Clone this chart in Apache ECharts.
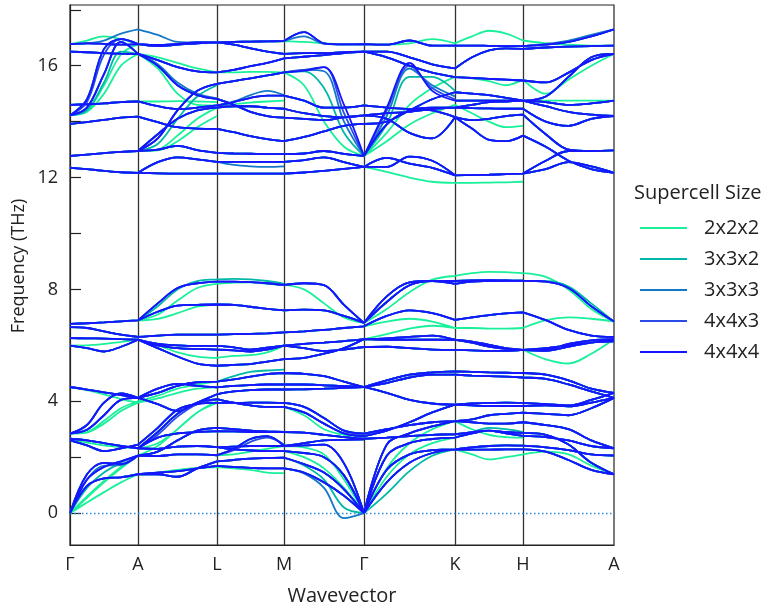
<!DOCTYPE html>
<html><head><meta charset="utf-8">
<script src="https://cdn.jsdelivr.net/npm/echarts@6/dist/echarts.min.js"></script>
<style>html,body{margin:0;padding:0;background:#fff}#c{width:764px;height:611px}</style>
</head><body><div id="c"></div>
<script>
// High-symmetry path (distance along path) and labels
const kpointPos = [0, 68, 147, 214, 294, 385, 453, 544];
const kpointLabels = ['Γ', 'A', 'L', 'M', 'Γ', 'K', 'H', 'A'];
const supercells = ['2x2x2', '3x3x2', '3x3x3', '4x4x3', '4x4x4'];
const colors = ['#19f09a', '#00b8a8', '#1478c8', '#2a4be8', '#1515ff'];
const yLabelTicks = [0, 4, 8, 12, 16];
const yMinorTicks = [0, 2, 4, 6, 8, 10, 12, 14, 16, 18];

// 4x4x4 branches, 5 samples per segment (THz)
const GA_444 = [
 [0,0.97,1.24,1.28,1.39],[0,1.39,1.8,1.75,2.06],[0,1.2,1.65,1.85,2.06],[2.66,2.6,2.5,2.4,2.32],
 [2.6,2.42,2.22,2.32,2.45],[2.84,3.15,3.95,4.28,4.12],[2.84,2.98,3.5,4.05,4.12],[4.51,4.42,4.32,4.22,4.12],
 [6.77,6.79,6.82,6.86,6.89],[6.65,6.62,6.5,6.38,6.3],[6.26,6.25,6.24,6.22,6.2],[5.99,5.9,5.78,5.95,6.2],
 [12.35,12.3,12.24,12.19,12.17],[12.77,12.82,12.87,12.92,12.95],[13.92,13.98,14.06,14.14,14.18],[14.6,14.62,14.65,14.7,14.72],
 [14.22,14.8,16.6,16.95,16.77],[14.22,14.5,15.7,16.85,16.42],[16.5,16.48,16.45,16.43,16.42],[16.77,16.8,16.78,16.75,16.77]
];
const AL_444 = [
 [1.39,1.39,1.3,1.6,1.85],[1.39,1.45,1.5,1.6,1.69],[2.06,2.04,2.1,2.1,2.07],[2.06,2.2,2.6,2.95,3.05],
 [2.32,2.3,2.38,2.4,2.36],[2.32,2.7,2.85,2.9,2.93],[2.32,2.9,3.55,3.95,4.08],[2.45,3.05,3.7,3.9,3.94],
 [4.12,3.9,3.65,3.95,4.25],[4.12,4.45,4.62,4.55,4.5],[4.12,4.3,4.55,4.68,4.7],
 [6.89,7.5,8.05,8.22,8.28],[6.89,7.2,7.42,7.45,7.46],[6.3,6.35,6.38,6.38,6.38],[6.2,6.05,6.0,5.98,5.98],
 [6.2,6.0,5.9,5.87,5.85],[6.2,5.9,5.6,5.35,5.27],
 [12.17,12.15,12.14,12.14,12.14],[12.17,12.55,12.72,12.65,12.56],[12.95,13.0,13.13,12.98,12.88],[12.95,13.55,14.1,14.4,14.5],
 [12.95,13.4,14.4,15.1,15.35],[14.18,13.98,13.8,13.75,13.74],[14.72,14.55,14.45,14.5,14.58],[16.42,16.0,15.3,14.95,14.81],
 [16.42,16.2,15.95,15.8,15.76],[16.77,16.74,16.78,16.83,16.83],[16.77,16.7,16.75,16.8,16.83]
];
const LM_444 = [
 [1.85,1.9,1.95,1.97,1.98],[1.69,1.65,1.62,1.6,1.6],[2.07,2.3,2.65,2.75,2.4],[2.36,2.28,2.24,2.22,2.22],
 [2.36,2.38,2.4,2.4,2.4],[2.93,2.92,2.9,2.9,2.9],[3.05,3.0,2.95,2.92,2.9],[4.08,3.95,3.85,3.8,3.8],
 [3.94,3.94,3.95,3.95,3.94],[4.25,4.35,4.4,4.42,4.42],[4.5,4.55,4.58,4.6,4.6],[4.7,4.78,4.88,4.97,5.01],
 [8.28,8.28,8.26,8.22,8.16],[7.46,7.45,7.38,7.3,7.25],[6.38,6.4,6.41,6.43,6.46],[5.98,5.93,5.85,5.92,5.99],
 [5.85,5.82,5.78,5.85,5.99],[5.27,5.3,5.33,5.42,5.51],
 [12.14,12.14,12.14,12.14,12.14],[12.56,12.56,12.56,12.56,12.56],[12.88,12.86,12.85,12.84,12.84],[14.5,14.55,14.55,14.5,14.46],
 [15.35,15.45,15.55,15.65,15.76],[13.74,13.62,13.48,13.37,13.3],[14.58,14.7,14.85,14.93,14.93],[14.81,14.6,14.35,14.2,14.14],
 [15.76,15.85,15.98,16.1,16.26],[16.83,16.85,16.86,16.87,16.88],[16.83,16.75,16.62,16.5,16.42]
];
const MG_444 = [
 [1.6,1.45,1.1,0.62,0],[1.98,1.75,1.45,0.85,0],[2.22,2.15,2.0,1.35,0],[2.4,2.42,2.45,1.78,0],
 [2.4,2.5,2.6,2.62,2.64],[2.9,2.88,2.8,2.72,2.66],[3.8,3.6,3.2,2.85,2.75],[3.94,3.8,3.4,2.95,2.84],
 [4.42,4.43,4.45,4.48,4.51],[4.6,4.6,4.57,4.54,4.51],[5.01,4.98,4.9,4.7,4.51],
 [8.16,8.22,8.15,7.45,6.8],[7.25,7.28,7.25,7.05,6.8],[6.46,6.5,6.55,6.62,6.68],[5.99,6.05,6.1,6.15,6.22],
 [5.99,5.9,5.8,5.85,5.94],[5.51,5.55,5.7,5.9,6.22],
 [12.14,12.18,12.24,12.31,12.38],[12.56,12.62,12.72,12.55,12.38],[12.84,12.86,12.95,12.85,12.77],[14.46,14.3,14.2,14.15,14.22],
 [15.76,15.82,15.95,14.6,12.77],[13.3,13.45,13.65,13.85,13.92],[14.93,14.75,14.5,14.5,14.58],[14.14,14.1,14.05,14.15,14.22],
 [16.26,16.32,16.38,16.45,16.5],[16.88,17.2,16.8,16.76,16.77],[16.42,16.45,16.45,16.48,16.5]
];
const GK_444 = [
 [0,1.1,1.8,2.15,2.28],[0,1.55,2.1,2.25,2.28],[0,2.05,2.5,2.65,2.7],[0,2.45,2.85,3.1,3.29],
 [2.66,2.7,2.75,2.8,2.82],[2.75,2.95,3.25,3.6,3.88],[2.84,3.0,3.15,3.25,3.29],[4.51,4.3,4.05,3.92,3.88],
 [4.51,4.65,4.85,4.95,4.95],[4.51,4.75,4.95,5.03,5.07],
 [6.8,7.75,8.25,8.3,8.2],[6.8,7.55,8.15,8.3,8.3],[6.68,7.05,7.25,7.15,6.91],[6.22,6.25,6.3,6.35,6.2],
 [6.22,6.2,6.2,6.2,6.2],[5.94,5.95,5.9,5.85,5.84],
 [12.38,12.38,12.75,12.6,12.08],[12.38,12.7,12.5,12.35,12.08],[12.77,14.5,16.1,15.1,14.75],[12.77,13.9,14.4,14.5,14.5],
 [13.92,14.0,14.4,14.8,15.05],[14.22,14.1,13.6,13.4,14.16],[14.22,14.3,14.35,14.45,14.5],[14.58,14.5,14.45,14.4,14.16],
 [16.5,16.5,16.3,16.05,15.9],[16.5,16.3,16.0,15.75,15.59],[16.77,16.75,16.9,16.72,16.72]
];
const KH_444 = [
 [2.28,2.27,2.27,2.28,2.28],[2.28,2.35,2.4,2.42,2.41],[2.7,2.85,2.95,2.9,2.87],[2.82,2.9,2.95,2.85,2.76],
 [3.29,3.35,3.5,3.55,3.59],[3.29,3.25,3.2,3.2,3.25],[3.88,3.92,3.94,3.95,3.94],[3.88,3.85,3.83,3.83,3.83],
 [4.95,4.92,4.9,4.88,4.85],[5.07,5.05,5.03,5.02,5.01],
 [8.2,8.28,8.3,8.31,8.31],[8.3,8.32,8.33,8.32,8.31],[6.91,7.0,7.08,7.14,7.18],[6.2,6.13,6.02,5.9,5.84],
 [6.2,6.1,5.95,5.87,5.84],[5.84,5.82,5.8,5.8,5.84],
 [12.08,12.09,12.1,12.12,12.14],[14.16,13.75,13.35,13.3,13.5],[14.16,14.05,14.1,14.2,14.25],[14.5,14.48,14.47,14.46,14.46],
 [14.5,14.6,14.7,14.72,14.75],[14.75,14.75,14.75,14.75,14.75],[15.05,15.0,14.95,14.85,14.75],[15.59,15.56,15.53,15.5,15.47],
 [15.9,16.3,16.55,16.62,16.6],[16.72,16.72,16.71,16.7,16.7]
];
const HA_444 = [
 [2.28,2.2,1.9,1.55,1.39],[2.41,2.35,2.25,2.1,2.06],[2.87,2.8,2.45,1.8,1.39],[2.76,2.72,2.6,2.4,2.32],
 [3.25,3.15,3.0,2.6,2.32],[3.59,3.55,3.5,3.75,4.12],[3.83,3.85,3.82,3.95,4.12],[3.94,3.9,3.85,4.05,4.3],
 [4.85,4.8,4.6,4.35,4.12],[5.01,4.95,4.75,4.45,4.3],
 [8.31,8.28,8.05,7.4,6.85],[7.18,6.9,6.55,6.35,6.3],[5.84,5.84,6.05,6.18,6.22],[5.84,5.9,6.0,6.1,6.2],
 [5.84,5.8,5.95,6.1,6.14],
 [12.14,12.6,12.95,12.95,12.97],[12.14,12.3,12.55,12.4,12.17],[13.5,13.1,12.6,12.3,12.17],[14.25,13.55,13.0,12.95,12.97],
 [14.46,14.0,13.85,14.1,14.2],[14.75,14.55,14.35,14.25,14.2],[14.75,14.7,14.6,14.65,14.75],[14.75,14.9,15.6,16.3,16.42],
 [15.47,15.4,15.75,16.2,16.42],[16.6,16.65,16.68,16.7,16.72],[16.7,16.75,16.85,17.05,17.3]
];

// Branches of the smaller supercells that differ from 4x4x4: [branch index, values]
const GA_222 = [[0,[0,0.38,0.75,1.1,1.39]],[1,[0,0.55,1.1,1.6,2.06]],[2,[0,0.6,1.15,1.65,2.06]],[4,[2.6,2.52,2.42,2.36,2.32]],
 [5,[2.84,2.88,3.2,3.65,3.95]],[6,[2.84,2.9,3.3,3.75,4.0]],[7,[4.51,4.4,4.25,4.08,3.95]],[11,[5.99,6.0,6.05,6.12,6.2]],
 [16,[14.22,14.4,15.3,16.4,16.77]],[17,[14.22,14.35,15.0,16.0,16.42]],[19,[16.77,16.9,17.05,16.95,16.77]]];
const AL_222 = [[1,[1.39,1.45,1.55,1.62,1.65]],[6,[2.32,2.5,3.0,3.6,4.0]],[7,[2.06,2.4,3.0,3.6,3.94]],[9,[3.95,4.1,4.3,4.45,4.5]],
 [10,[4.0,4.2,4.45,4.6,4.7]],[11,[6.89,7.1,7.6,8.05,8.2]],[12,[6.89,6.95,7.15,7.38,7.46]],[16,[6.2,6.0,5.75,5.6,5.55]],
 [20,[12.95,12.97,13.3,13.8,14.2]],[21,[12.95,13.0,13.5,14.1,14.5]],[23,[14.72,14.72,14.73,14.72,14.7]],
 [24,[16.42,15.9,15.0,14.6,14.58]],[25,[16.42,16.3,16.1,15.9,15.76]]];
const LM_222 = [[2,[2.07,2.1,2.2,2.3,2.4]],[1,[1.65,1.6,1.55,1.45,1.43]],[12,[8.2,8.24,8.25,8.2,8.16]],
 [16,[5.55,5.62,5.65,5.75,5.99]],[26,[15.76,15.76,15.78,15.78,15.76]],[24,[14.58,14.62,14.68,14.72,14.75]]];
const MG_222 = [[2,[2.22,2.0,1.6,0.9,0]],[3,[2.4,2.35,2.1,1.2,0]],[6,[3.8,3.5,3.0,2.8,2.75]],[11,[8.16,8.0,7.5,7.0,6.8]],
 [21,[15.76,15.3,14.0,13.1,12.77]],[26,[16.88,16.85,16.8,16.76,16.77]]];
const GK_222 = [[2,[0,1.3,2.1,2.5,2.7]],[3,[0,1.6,2.5,3.0,3.29]],[10,[6.8,7.3,7.9,8.35,8.48]],[12,[6.68,6.85,6.95,6.85,6.62]],
 [13,[6.22,6.4,6.6,6.7,6.62]],[16,[12.38,12.2,12.0,11.85,11.81]],[18,[12.77,13.6,14.6,15.2,15.6]],
 [19,[12.77,13.3,13.9,14.3,14.6]],[26,[16.77,16.75,16.8,16.95,16.8]]];
const KH_222 = [[0,[2.28,2.1,1.92,2.0,2.1]],[5,[3.29,3.0,2.8,2.72,2.7]],[10,[8.48,8.58,8.63,8.62,8.58]],[13,[6.62,6.62,6.6,6.6,6.62]],
 [16,[11.81,11.81,11.82,11.83,11.85]],[17,[14.6,14.3,14.0,13.8,13.85]],[23,[15.6,15.55,15.45,15.3,15.5]],
 [25,[16.8,17.05,17.25,17.15,16.9]]];
const HA_222 = [[0,[2.1,2.2,2.1,1.7,1.39]],[10,[8.58,8.45,8.0,7.3,6.85]],[11,[6.62,6.9,7.0,6.95,6.85]],[12,[5.84,5.5,5.35,5.7,6.22]],
 [23,[15.5,15.0,15.5,16.0,16.42]],[22,[14.75,14.75,14.75,14.75,14.75]],[25,[16.9,16.8,16.75,16.72,16.72]]];

const GA_332 = [[2,[0,0.9,1.45,1.8,2.06]],[17,[14.22,14.4,15.4,16.5,16.42]]];
const AL_332 = [[11,[6.89,7.4,8.0,8.3,8.36]],[21,[12.95,13.2,14.1,14.9,15.3]]];
const LM_332 = [[11,[4.7,4.9,5.05,5.1,5.13]],[12,[8.36,8.38,8.36,8.3,8.2]]];
const MG_332 = [[1,[1.98,1.7,1.2,0.2,0]],[21,[15.76,15.8,15.2,13.6,12.77]]];
const GK_332 = [[0,[0,0.7,1.5,2.05,2.28]],[18,[12.77,13.9,15.6,15.6,15.1]]];
const KH_332 = [[2,[2.7,2.9,3.05,3.0,2.9]]];
const HA_332 = [[10,[8.31,8.3,8.1,7.5,6.85]]];

const GA_333 = [[19,[16.77,16.8,16.9,17.15,17.3]],[1,[0,1.2,1.7,1.72,2.06]]];
const AL_333 = [[26,[17.3,17.1,16.85,16.83,16.83]],[24,[16.42,16.05,15.4,15.0,14.83]]];
const LM_333 = [[24,[14.58,14.72,14.95,15.1,14.95]],[19,[12.56,12.45,12.4,12.38,12.4]]];
const MG_333 = [[0,[1.6,1.42,0.9,-0.18,0]],[21,[15.76,15.85,15.8,14.0,12.77]],[26,[16.88,17.05,16.78,16.76,16.77]]];
const GK_333 = [[18,[12.77,14.2,15.9,15.3,14.9]]];
const KH_333 = [];
const HA_333 = [[25,[16.7,16.78,16.9,17.1,17.3]]];

const GA_443 = [[16,[14.22,14.7,16.4,16.95,16.77]]];
const AL_443 = [[6,[2.32,2.8,3.45,3.9,4.06]]];
const LM_443 = [[2,[2.07,2.25,2.55,2.7,2.45]]];
const MG_443 = [[21,[15.76,15.85,15.95,14.3,12.77]]];
const GK_443 = [[18,[12.77,14.4,16.0,15.2,14.8]]];
const KH_443 = [];
const HA_443 = [];

const segments444 = [GA_444, AL_444, LM_444, MG_444, GK_444, KH_444, HA_444];
const diffSets = [
  [GA_222, AL_222, LM_222, MG_222, GK_222, KH_222, HA_222],
  [GA_332, AL_332, LM_332, MG_332, GK_332, KH_332, HA_332],
  [GA_333, AL_333, LM_333, MG_333, GK_333, KH_333, HA_333],
  [GA_443, AL_443, LM_443, MG_443, GK_443, KH_443, HA_443],
  [[], [], [], [], [], [], []]
];

function buildData(diffs) {
  const data = [];
  segments444.forEach((seg, s) => {
    const x0 = kpointPos[s], x1 = kpointPos[s + 1];
    const rep = new Map(diffs[s]);
    seg.forEach((vals, i) => {
      const v = rep.has(i) ? rep.get(i) : vals;
      v.forEach((y, k) => data.push([x0 + (x1 - x0) * k / (v.length - 1), y]));
      data.push(['-', '-']);
    });
  });
  return data;
}

const font = "'Open Sans', 'Noto Sans', sans-serif";
const chart = echarts.init(document.getElementById('c'), null, {renderer: 'canvas'});
const series = supercells.map((name, i) => ({
  name, type: 'line', data: buildData(diffSets[i]), smooth: 0.35,
  symbol: 'none', showSymbol: false, connectNulls: false, silent: true, z: 3 + i,
  lineStyle: {color: colors[i], width: 1.8}, itemStyle: {color: colors[i]}
}));
series.unshift({
  name: '_frame', type: 'line', data: [[0, null]], symbol: 'none', silent: true, z: 1,
  markLine: {
    symbol: 'none', silent: true, animation: false, label: {show: false}, z: 1,
    lineStyle: {color: '#333', width: 1.3, type: 'solid'},
    data: kpointPos.slice(1, -1).map(x => ({xAxis: x}))
      .concat([{yAxis: 0, lineStyle: {color: '#2b86d6', width: 1.3, type: [1.5, 2.5]}}])
  }
});

chart.setOption({
  animation: false,
  textStyle: {fontFamily: font},
  title: {text: 'Supercell Size', left: 634, top: 183, padding: 0,
    textStyle: {fontSize: 20, fontWeight: 'normal', color: '#222', fontFamily: font}},
  legend: {data: supercells, orient: 'vertical', left: 635, top: 213, icon: 'rect',
    itemWidth: 47, itemHeight: 2, itemGap: 11,
    textStyle: {fontSize: 20, color: '#222', padding: [0, 0, 0, 12], fontFamily: font}},
  graphic: [{
    type: 'text', x: 19, y: 266, rotation: Math.PI / 2, silent: true,
    style: {text: 'Frequency (THz)', fontSize: 18, fontFamily: font, fill: '#222',
      textAlign: 'center', textVerticalAlign: 'middle'}
  }],
  grid: {left: 70, right: 150, top: 5, bottom: 65, show: true, borderColor: '#222', borderWidth: 1.2},
  xAxis: {
    type: 'value', min: 0, max: 544,
    name: 'Wavevector', nameLocation: 'middle', nameGap: 41,
    nameTextStyle: {fontSize: 20, color: '#222'},
    axisLine: {show: true, onZero: false, lineStyle: {color: '#222', width: 1.2}},
    axisTick: {show: false},
    axisLabel: {customValues: kpointPos, fontSize: 18, color: '#222', margin: 11,
      formatter: v => kpointLabels[kpointPos.indexOf(v)] || ''},
    splitLine: {show: false}
  },
  yAxis: {
    type: 'value', min: -1.14, max: 18.17,
    axisLine: {show: true, onZero: false, lineStyle: {color: '#222', width: 1.2}},
    axisTick: {show: true, inside: true, length: 11, customValues: yMinorTicks, lineStyle: {color: '#222', width: 1.2}},
    axisLabel: {customValues: yLabelTicks, fontSize: 18, color: '#222', margin: 12},
    splitLine: {show: false}
  },
  series
});
</script></body></html>
